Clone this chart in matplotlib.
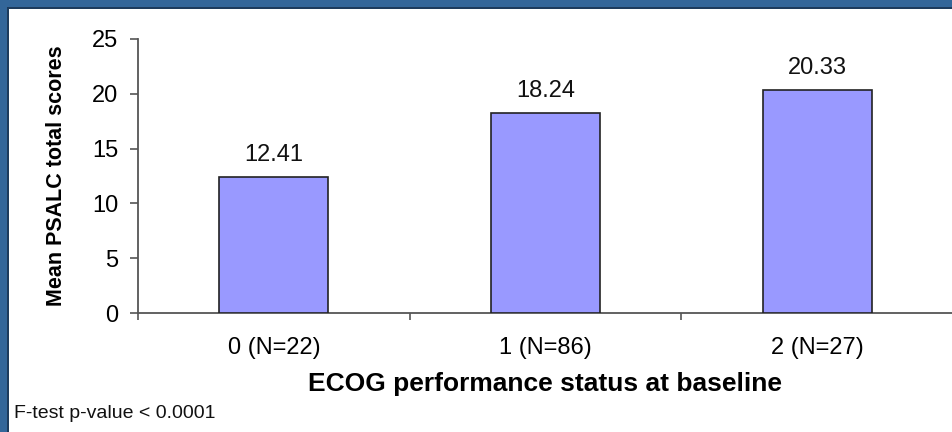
import matplotlib
matplotlib.use("Agg")
import matplotlib.pyplot as plt
from matplotlib.patches import Rectangle

plt.rcParams['font.family'] = ['Liberation Sans', 'DejaVu Sans']

categories = ["0 (N=22)", "1 (N=86)", "2 (N=27)"]
mean_scores = [12.41, 18.24, 20.33]
y_ticks = [0, 5, 10, 15, 20, 25]

W, H = 953, 432
fig = plt.figure(figsize=(W / 100, H / 100), dpi=100)
fig.patch.set_facecolor("white")

# slide frame: blue band on top and left with a dark inner edge
frame_blue = "#336699"
edge_dark = "#1d3b5c"
fig.patches.append(Rectangle((0, 1 - 7 / H), 1, 7 / H, transform=fig.transFigure,
                             facecolor=frame_blue, edgecolor="none", zorder=0))
fig.patches.append(Rectangle((0, 0), 7 / W, 1, transform=fig.transFigure,
                             facecolor=frame_blue, edgecolor="none", zorder=0))
fig.patches.append(Rectangle((7 / W, 1 - 9 / H), 1, 2 / H, transform=fig.transFigure,
                             facecolor=edge_dark, edgecolor="none", zorder=0))
fig.patches.append(Rectangle((7 / W, 0), 2 / W, 1 - 7 / H, transform=fig.transFigure,
                             facecolor=edge_dark, edgecolor="none", zorder=0))

ax_left, ax_right = 138 / W, 953 / W
ax_bottom, ax_top = (H - 313) / H, (H - 39) / H
ax = fig.add_axes([ax_left, ax_bottom, ax_right - ax_left, ax_top - ax_bottom])

x = list(range(len(categories)))
bars = ax.bar(x, mean_scores, width=0.4, color="#9999FF", edgecolor="#222222",
              linewidth=1.2, zorder=3)

for xi, v in zip(x, mean_scores):
    ax.annotate(f"{v:.2f}", (xi, v), xytext=(0, 8), textcoords="offset points",
                ha="center", va="bottom", fontsize=17, color="#111111")

ax.set_xlim(-0.5, len(categories) - 0.5)
ax.set_ylim(0, 25)
ax.set_yticks(y_ticks)
ax.set_yticklabels([str(t) for t in y_ticks], fontsize=17)

# boundary ticks between categories; labels sit on minor ticks at centres
ax.set_xticks([i - 0.5 for i in range(len(categories) + 1)])
ax.set_xticklabels([])
ax.set_xticks(x, minor=True)
ax.set_xticklabels(categories, minor=True, fontsize=17)
ax.tick_params(axis="x", which="minor", length=0, pad=17)
ax.tick_params(axis="x", which="major", length=5, width=1.2, color="#555555",
               direction="out")
ax.tick_params(axis="y", length=6, width=1.2, color="#555555", pad=8)

for s in ("top", "right"):
    ax.spines[s].set_visible(False)
for s in ("left", "bottom"):
    ax.spines[s].set_color("#555555")
    ax.spines[s].set_linewidth(1.3)

ax.set_xlabel("ECOG performance status at baseline", fontsize=19,
              fontweight="bold", labelpad=10)
ax.set_ylabel("Mean PSALC total scores", fontsize=15.5, fontweight="bold",
              labelpad=18)

fig.text(14 / W, 1 - 413 / H, "F-test p-value < 0.0001", fontsize=14,
         ha="left", va="center", color="#111111")

fig.savefig("out.png", dpi=100)
